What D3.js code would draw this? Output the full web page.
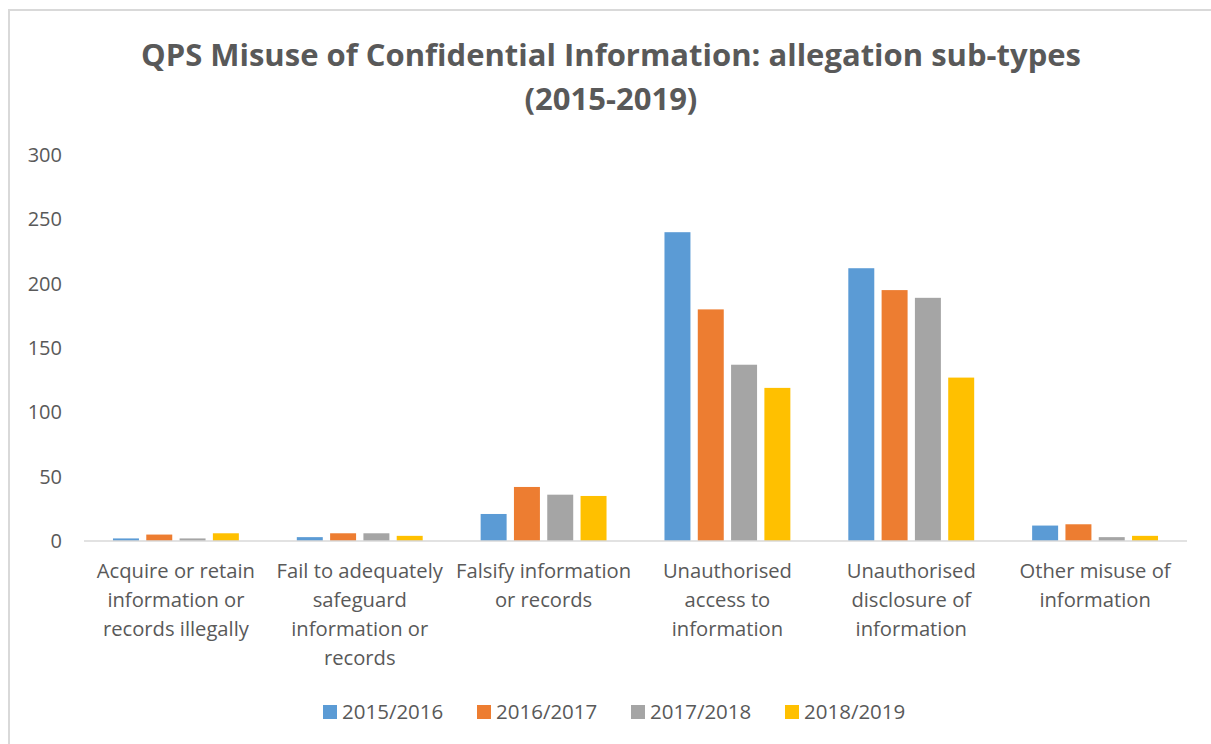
<!DOCTYPE html>
<html>
<head>
<meta charset="utf-8">
<script src="https://cdn.jsdelivr.net/npm/d3@7"></script>
<style>
  body { margin: 0; background: #fff; }
  svg { display: block; font-family: "Open Sans", sans-serif; }
</style>
</head>
<body>
<div id="chart"></div>
<script>
// chart data
const categories = [
    ["Acquire or retain", "information or", "records illegally"],
    ["Fail to adequately", "safeguard", "information or", "records"],
    ["Falsify information", "or records"],
    ["Unauthorised", "access to", "information"],
    ["Unauthorised", "disclosure of", "information"],
    ["Other misuse of", "information"]
]
const seriesNames = ["2015/2016", "2016/2017", "2017/2018", "2018/2019"]
const s2015 = [2, 3, 21, 240, 212, 12]
const s2016 = [5, 6, 42, 180, 195, 13]
const s2017 = [2, 6, 36, 137, 189, 3]
const s2018 = [6, 4, 35, 119, 127, 4]
const yTicks = [0, 50, 100, 150, 200, 250, 300]
const COLORS = ["#5b9bd5", "#ed7d31", "#a5a5a5", "#ffc000"]

const allSeries = [s2015, s2016, s2017, s2018]

const width = 1211, height = 744
const margin = { top: 155, right: 24, bottom: 203, left: 84 }

const svg = d3.select("#chart").append("svg")
    .attr("width", width)
    .attr("height", height)

// outer chart border (only top and left visible, the rest is cropped)
svg.append("rect")
    .attr("x", 9).attr("y", 10)
    .attr("width", 1300).attr("height", 900)
    .attr("fill", "none")
    .attr("stroke", "#d9d9d9")
    .attr("stroke-width", 2)

// title
const title = svg.append("text")
    .attr("text-anchor", "middle")
    .attr("fill", "#595959")
    .style("font-size", "31px")
    .style("font-weight", "bold")
title.append("tspan").attr("x", 611).attr("y", 66).text("QPS Misuse of Confidential Information: allegation sub-types")
title.append("tspan").attr("x", 611).attr("y", 110).text("(2015-2019)")

const x0 = d3.scaleBand()
    .domain(d3.range(categories.length))
    .range([margin.left, width - margin.right])

const x1 = d3.scaleBand()
    .domain(d3.range(seriesNames.length))
    .range([0, x0.bandwidth()])
    .paddingInner(0.22)
    .paddingOuter(0.87)

const y = d3.scaleLinear()
    .domain([0, 300])
    .range([height - margin.bottom, margin.top])

// y axis labels, no line
const yAxis = svg.append("g")
    .attr("transform", "translate(" + (margin.left - 22) + ",0)")
    .call(d3.axisLeft(y).tickValues(yTicks).tickSize(0).tickPadding(0))
yAxis.select(".domain").remove()
yAxis.selectAll("text")
    .attr("fill", "#595959")
    .style("font-size", "20px")
    .style("font-family", "'Open Sans', sans-serif")

// bars
const groups = svg.selectAll(".grp")
    .data(categories)
    .enter().append("g")
    .attr("class", "grp")
    .attr("transform", (d, i) => "translate(" + x0(i) + ",0)")

groups.selectAll("rect")
    .data((d, i) => allSeries.map((s, j) => ({ j: j, v: s[i] })))
    .enter().append("rect")
    .attr("x", d => x1(d.j))
    .attr("width", x1.bandwidth())
    .attr("y", d => y(d.v))
    .attr("height", d => y(0) - y(d.v))
    .attr("fill", d => COLORS[d.j])

// x axis line
svg.append("line")
    .attr("x1", margin.left).attr("x2", width - margin.right)
    .attr("y1", y(0)).attr("y2", y(0))
    .attr("stroke", "#d9d9d9")
    .attr("stroke-width", 1.5)

// category labels
const labels = svg.selectAll(".cat")
    .data(categories)
    .enter().append("text")
    .attr("class", "cat")
    .attr("text-anchor", "middle")
    .attr("fill", "#595959")
    .style("font-size", "20.2px")

labels.selectAll("tspan")
    .data((d, i) => d.map(line => ({ line: line, i: i })))
    .enter().append("tspan")
    .attr("x", d => x0(d.i) + x0.bandwidth() / 2)
    .attr("y", (d, k) => 578 + k * 29)
    .text(d => d.line)

// legend
const legendX = [323, 477, 631, 785]
const legend = svg.selectAll(".leg")
    .data(seriesNames)
    .enter().append("g")
    .attr("class", "leg")
    .attr("transform", (d, i) => "translate(" + legendX[i] + ",705)")
legend.append("rect")
    .attr("width", 14).attr("height", 14)
    .attr("fill", (d, i) => COLORS[i])
legend.append("text")
    .attr("x", 19).attr("y", 14)
    .attr("fill", "#595959")
    .style("font-size", "20.5px")
    .text(d => d)
</script>
</body>
</html>
